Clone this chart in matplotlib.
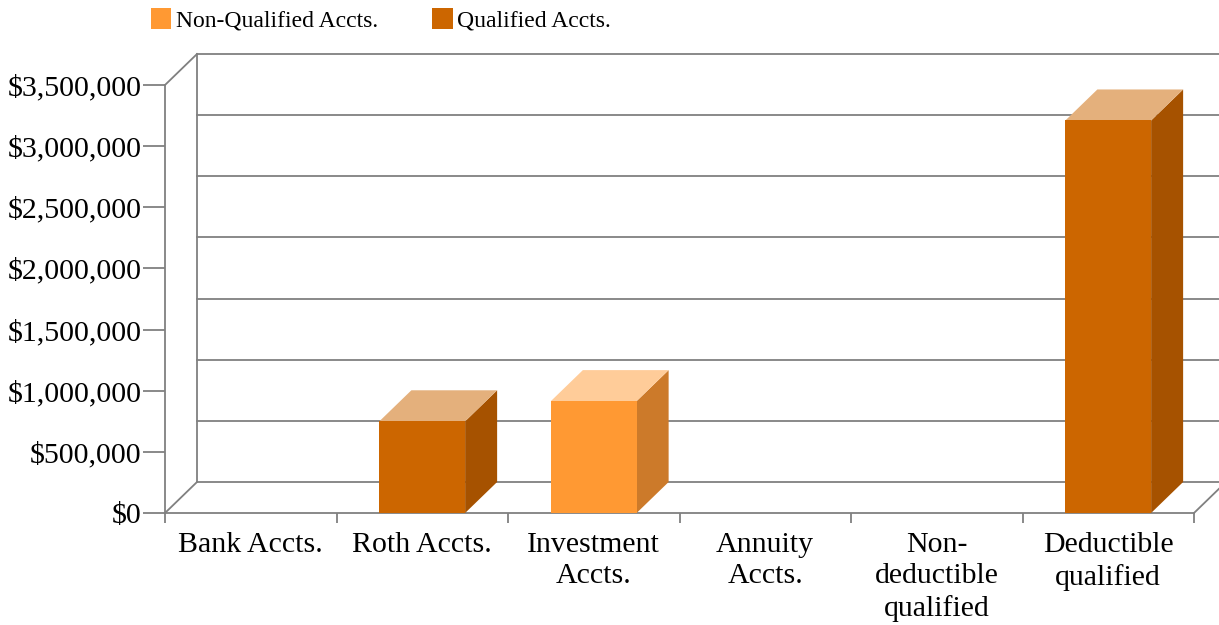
import numpy as np
import matplotlib
matplotlib.use("Agg")
import matplotlib.pyplot as plt
from matplotlib.patches import Polygon, Patch

# account balances by category
categories = ["Bank Accts.", "Roth Accts.", "Investment\nAccts.", "Annuity\nAccts.",
              "Non-\ndeductible\nqualified", "Deductible\nqualified"]
non_qualified = [0, 0, 915000, 0, 0, 0]
qualified = [0, 750000, 0, 0, 0, 3210000]
y_ticks = [0, 500000, 1000000, 1500000, 2000000, 2500000, 3000000, 3500000]

# front / top / side shades for each series
series = [
    ("Non-Qualified Accts.", non_qualified, ("#FF9933", "#FFCC99", "#CC7A2A")),
    ("Qualified Accts.", qualified, ("#CC6600", "#E4B07C", "#A65200")),
]

plt.rcParams["font.family"] = ["Liberation Serif", "DejaVu Serif"]
W, H, DPI = 1219, 625, 100
fig = plt.figure(figsize=(W / DPI, H / DPI), dpi=DPI)
ax = fig.add_axes([165 / W, (H - 513) / H, (1194 - 165) / W, (513 - 85) / H])
n = len(categories)
ax.set_xlim(-0.5, n - 0.5)
ax.set_ylim(0, y_ticks[-1])
for s in ax.spines.values():
    s.set_visible(False)
ax.patch.set_visible(False)

# depth of the pseudo-3D offset, converted from pixels into data units
o = ax.transData.transform((0, 0))
d = ax.transData.inverted().transform(o + np.array([32, 31]))
dx, dy = d[0], d[1]

grey = "#808080"
lw = 1.3
x0, x1 = -0.5, n - 0.5
top = y_ticks[-1]

# back wall gridlines and left edge
for v in y_ticks:
    ax.plot([x0 + dx, x1 + dx], [v + dy, v + dy], color=grey, lw=lw, clip_on=False, zorder=1)
ax.plot([x0 + dx, x0 + dx], [dy, top + dy], color=grey, lw=lw, clip_on=False, zorder=1)
# floor / side diagonals
ax.plot([x0, x0 + dx], [0, dy], color=grey, lw=lw, clip_on=False, zorder=1)
ax.plot([x0, x0 + dx], [top, top + dy], color=grey, lw=lw, clip_on=False, zorder=1)
ax.plot([x1, x1 + dx], [0, dy], color=grey, lw=lw, clip_on=False, zorder=1)
# front axis lines
ax.plot([x0, x0], [0, top], color=grey, lw=lw, clip_on=False, zorder=1)
ax.plot([x0, x1], [0, 0], color=grey, lw=lw, clip_on=False, zorder=1)

# stacked 3D bars
bw = 0.5
base = np.zeros(n)
for name, vals, (c_front, c_top, c_side) in series:
    for i, v in enumerate(vals):
        if v <= 0:
            continue
        b0, b1 = base[i], base[i] + v
        l, r = i - bw / 2, i + bw / 2
        ax.add_patch(Polygon([(r, b0), (r + dx, b0 + dy), (r + dx, b1 + dy), (r, b1)],
                             closed=True, fc=c_side, ec="none", clip_on=False, zorder=3))
        ax.add_patch(Polygon([(l, b1), (r, b1), (r + dx, b1 + dy), (l + dx, b1 + dy)],
                             closed=True, fc=c_top, ec="none", clip_on=False, zorder=3))
        ax.add_patch(Polygon([(l, b0), (r, b0), (r, b1), (l, b1)],
                             closed=True, fc=c_front, ec="none", clip_on=False, zorder=4))
    base += np.array(vals)

# ticks and labels
ax.set_yticks(y_ticks)
ax.set_yticklabels([f"${v:,.0f}" for v in y_ticks], fontsize=21.5)
ax.tick_params(axis="y", length=16, width=lw, color=grey, pad=1)
ax.set_xticks(np.arange(-0.5, n, 1.0))
ax.set_xticklabels([])
ax.tick_params(axis="x", which="major", length=7, width=lw, color=grey)
ax.set_xticks(np.arange(n), minor=True)
ax.set_xticklabels(categories, minor=True, fontsize=21.5, linespacing=1.25)
ax.tick_params(axis="x", which="minor", length=0, pad=14)

handles = [Patch(fc=c[0], ec="none", label=name) for name, _, c in series]
fig.legend(handles=handles, loc="upper left", bbox_to_anchor=(143 / W, 1.0), ncol=2,
           frameon=False, fontsize=17, handlelength=0.85, handleheight=1.0,
           handletextpad=0.2, columnspacing=2.3, borderaxespad=0.0, borderpad=0.35)

fig.savefig("out.png", dpi=DPI)
